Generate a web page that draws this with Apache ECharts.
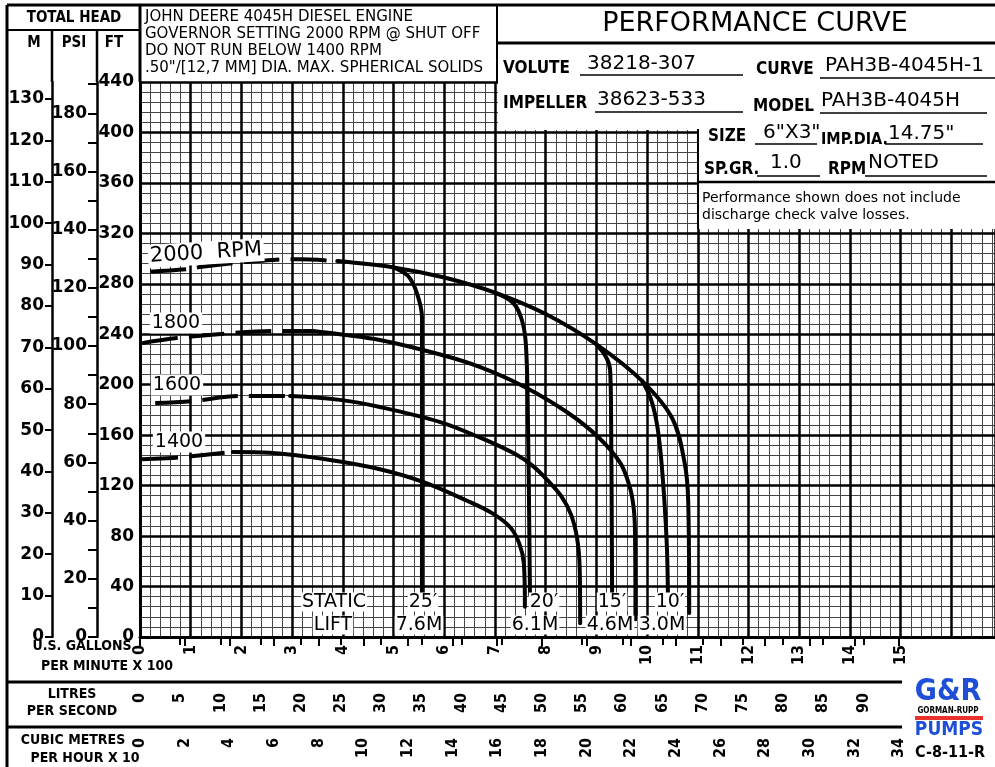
<!DOCTYPE html>
<html>
<head>
<meta charset="utf-8">
<script src="https://cdn.jsdelivr.net/npm/echarts@6.0.0/dist/echarts.min.js"></script>
<style>html,body{margin:0;padding:0;background:#fff;}#chart{width:995px;height:767px;}</style>
</head>
<body>
<div id="chart"></div>
<script>
// ---------- axis ranges & unit conversions ----------
const X_MAX = 16.86;          // U.S. GPM x 100 at right edge of grid
const Y_MAX = 440;            // total head, feet
const FT_PER_PSI = 2.3067;
const FT_PER_M = 3.2808;
const GPM_PER_LPS = 15.8503;
const GPM_PER_M3H = 4.40287;

// ---------- tick labels ----------
const GPM_LABELS = [0,1,2,3,4,5,6,7,8,9,10,11,12,13,14,15];
const LPS_LABELS = [0,5,10,15,20,25,30,35,40,45,50,55,60,65,70,75,80,85,90];
const M3H_LABELS = [0,2,4,6,8,10,12,14,16,18,20,22,24,26,28,30,32,34];
const PSI_TICKS = [0,10,20,30,40,50,60,70,80,90,100,110,120,130,140,150,160,170,180,190];
const PSI_LABELS = [0,20,40,60,80,100,120,140,160,180];
const M_LABELS = [0,10,20,30,40,50,60,70,80,90,100,110,120,130];

// ---------- head curves  [US GPM x100, feet] ----------
const rpm2000Dash = [[0.2,289.6],[0.95,291.7],[1.22,293.5],[1.97,297],[2.17,297.5],[2.9,299.4],[3.12,299.4],[3.89,298]];
const rpm2000 = [[3.89,298],[5.0,293],[6.0,285],[7.0,273],[8.0,256],[9.0,232],[9.9,203],[10.5,173],[10.74,138],[10.81,108],[10.83,19]];
const rpm1800Dash = [[0.04,233],[0.73,237],[1.83,241],[2.66,242.6],[3.41,242.6]];
const rpm1800 = [[3.41,242.6],[3.94,240],[4.73,235.5],[5.92,224],[6.71,214],[7.55,199],[8.43,178],[9.05,158],[9.47,138],[9.65,120],[9.73,104],[9.76,85],[9.77,14]];
const rpm1600Dash = [[0.3,185.5],[1.03,187],[1.97,191],[2.96,191]];
const rpm1600 = [[2.96,191],[3.94,188],[4.73,182.3],[5.92,170.4],[6.71,158],[7.4,145],[7.75,135.5],[8.03,124.5],[8.3,112],[8.5,97],[8.62,78],[8.67,55],[8.68,11]];
const rpm1400Dash = [[0.04,141],[0.65,142],[0.89,142.7],[1.62,145.9],[1.83,146.7]];
const rpm1400 = [[1.83,146.7],[2.56,146],[3.75,140.3],[4.73,133],[5.58,123],[6.45,108],[6.95,98],[7.3,87],[7.48,74],[7.57,58],[7.59,24]];

// ---------- static lift limit curves ----------
const lift25 = [[5.0,293],[5.29,286],[5.46,272.7],[5.56,253.7],[5.56,219.6],[5.56,34.9]];
const lift20 = [[7.0,273],[7.36,264.8],[7.53,251.3],[7.61,231.5],[7.65,172],[7.69,33.3]];
const lift15 = [[9.0,232],[9.19,222],[9.27,211.7],[9.29,172],[9.31,31.7]];
const lift10 = [[9.9,203],[10.06,190.3],[10.18,172],[10.26,148.2],[10.34,108.6],[10.39,71.4],[10.41,34.9]];

// ---------- styling ----------
const F = '"DejaVu Sans", sans-serif';
const FC = '"DejaVu Sans Condensed", "DejaVu Sans", sans-serif';
const K = '#000';

function curve(data, dashed) {
  return {
    type: 'line', data: data, xAxisIndex: 1, yAxisIndex: 1,
    symbol: 'none', smooth: 0.35, silent: true, z: 5,
    lineStyle: { color: K, width: 4, type: dashed ? [36, 11] : 'solid', cap: dashed ? 'butt' : 'round', join: 'round' }
  };
}
function L(x1, y1, x2, y2, w) {
  return { type: 'line', z: 40, shape: { x1: x1, y1: y1, x2: x2, y2: y2 }, style: { stroke: K, lineWidth: w || 2 } };
}
function T(text, x, y, size, o) {
  o = o || {};
  const st = {
    text: text, fill: o.fill || K, fontSize: size, fontFamily: o.family || F,
    fontWeight: o.bold ? 'bold' : 'normal', align: o.align || 'left', verticalAlign: 'middle'
  };
  if (o.bg) { st.backgroundColor = '#fff'; st.padding = o.pad || [1, 2]; }
  const el = { type: 'text', z: 45, x: x, y: y, style: st };
  if (o.rot) el.rotation = o.rot;
  return el;
}
const rotLbl = { rotate: 90, fontFamily: FC, fontWeight: 'bold', fontSize: 16, color: K };

const option = {
  animation: false,
  backgroundColor: '#fff',
  grid: { left: 140, top: 82, width: 855, height: 555, containLabel: false },
  xAxis: [
    { // minor vertical grid
      type: 'value', min: 0, max: X_MAX, interval: 0.2, z: 0,
      axisLine: { show: false }, axisTick: { show: false }, axisLabel: { show: false },
      splitLine: { show: true, lineStyle: { color: '#454545', width: 1 } }
    },
    { // U.S. GPM x 100
      type: 'value', min: 0, max: X_MAX, interval: 1, position: 'bottom', z: 1,
      axisLine: { show: true, onZero: false, lineStyle: { color: K, width: 3 } },
      axisTick: { show: false },
      axisLabel: Object.assign({ customValues: GPM_LABELS, margin: 8 }, rotLbl),
      splitLine: { show: true, lineStyle: { color: K, width: 2.5 } }
    },
    { // litres per second
      type: 'value', min: 0, max: X_MAX * 100 / GPM_PER_LPS, position: 'bottom', offset: 45,
      axisLine: { show: false },
      axisTick: { show: true, customValues: LPS_LABELS, length: 8, lineStyle: { color: K, width: 2 } },
      axisLabel: Object.assign({ customValues: LPS_LABELS, margin: 11 }, rotLbl),
      splitLine: { show: false }
    },
    { // cubic metres per hour x 10
      type: 'value', min: 0, max: X_MAX * 100 / (GPM_PER_M3H * 10), position: 'bottom', offset: 90,
      axisLine: { show: false },
      axisTick: { show: true, customValues: M3H_LABELS, length: 9, lineStyle: { color: K, width: 2 } },
      axisLabel: Object.assign({ customValues: M3H_LABELS, margin: 11 }, rotLbl),
      splitLine: { show: false }
    }
  ],
  yAxis: [
    { // minor horizontal grid
      type: 'value', min: 0, max: Y_MAX, interval: 8, z: 0,
      axisLine: { show: false }, axisTick: { show: false }, axisLabel: { show: false },
      splitLine: { show: true, lineStyle: { color: '#454545', width: 1 } }
    },
    { // FT
      type: 'value', min: 0, max: Y_MAX, interval: 40, position: 'left', z: 1,
      axisLine: { show: true, onZero: false, lineStyle: { color: K, width: 3 } },
      axisTick: { show: false },
      axisLabel: { margin: 6, fontSize: 17, fontWeight: 'bold', fontFamily: F, color: K },
      splitLine: { show: true, lineStyle: { color: K, width: 2.5 } }
    },
    { // PSI
      type: 'value', min: 0, max: Y_MAX / FT_PER_PSI, position: 'left', offset: 43,
      axisLine: { show: true, onZero: false, lineStyle: { color: K, width: 2.5 } },
      axisTick: { show: true, customValues: PSI_TICKS, length: 9, lineStyle: { color: K, width: 2 } },
      axisLabel: { customValues: PSI_LABELS, margin: 10, fontSize: 17, fontWeight: 'bold', fontFamily: F, color: K },
      splitLine: { show: false }
    },
    { // M
      type: 'value', min: 0, max: Y_MAX / FT_PER_M, position: 'left', offset: 88,
      axisLine: { show: true, onZero: false, lineStyle: { color: K, width: 2.5 } },
      axisTick: { show: true, customValues: M_LABELS, length: 7, lineStyle: { color: K, width: 2 } },
      axisLabel: { customValues: M_LABELS, margin: 8, fontSize: 17, fontWeight: 'bold', fontFamily: F, color: K },
      splitLine: { show: false }
    }
  ],
  series: [
    curve(rpm2000Dash, true), curve(rpm2000),
    curve(rpm1800Dash, true), curve(rpm1800),
    curve(rpm1600Dash, true), curve(rpm1600),
    curve(rpm1400Dash, true), curve(rpm1400),
    curve(lift25), curve(lift20), curve(lift15), curve(lift10)
  ],
  graphic: { elements: [
    // white header panels
    { type: 'rect', z: 30, shape: { x: 498, y: 6, width: 497, height: 124 }, style: { fill: '#fff' } },
    { type: 'rect', z: 30, shape: { x: 699, y: 128, width: 296, height: 101 }, style: { fill: '#fff' } },
    { type: 'rect', z: 30, shape: { x: 140, y: 6, width: 358, height: 75 }, style: { fill: '#fff' } },
    // frame lines
    L(7, 5, 995, 5, 3), L(7, 5, 7, 767, 3), L(7, 30, 140, 30, 2),
    L(52, 30, 52, 82, 2.5), L(97, 30, 97, 82, 2.5), L(140, 5, 140, 82, 3),
    L(497, 5, 497, 82, 2), L(497, 43, 995, 43, 3),
    L(698, 129, 698, 229, 2), L(698, 182, 995, 182, 2.5),
    L(7, 682, 902, 682, 3), L(7, 727, 902, 727, 3),
    // underlines
    L(580, 75, 743, 75, 1.5), L(820, 78, 995, 78, 1.5),
    L(595, 112, 743, 112, 1.5), L(820, 113, 987, 113, 1.5),
    L(755, 144, 817, 144, 1.5), L(885, 144, 983, 144, 1.5),
    L(757, 176, 820, 176, 1.5), L(865, 176, 987, 176, 1.5),
    // left header
    T('TOTAL HEAD', 74, 18, 15, { bold: true, family: FC, align: 'center' }),
    T('M', 34, 43, 15, { bold: true, family: FC, align: 'center' }),
    T('PSI', 74, 43, 15, { bold: true, family: FC, align: 'center' }),
    T('FT', 114, 43, 15, { bold: true, family: FC, align: 'center' }),
    // engine notes
    T('JOHN DEERE 4045H DIESEL ENGINE', 145, 17, 15),
    T('GOVERNOR SETTING 2000 RPM @ SHUT OFF', 145, 34, 15),
    T('DO NOT RUN BELOW 1400 RPM', 145, 51, 15),
    T('.50"/[12,7 MM] DIA. MAX. SPHERICAL SOLIDS', 145, 68, 15),
    // title block
    T('PERFORMANCE CURVE', 755, 24, 27, { align: 'center' }),
    T('VOLUTE', 503, 69, 17, { bold: true, family: FC }),
    T('38218-307', 587, 64, 20),
    T('CURVE', 756, 70, 17, { bold: true, family: FC }),
    T('PAH3B-4045H-1', 825, 66, 20),
    T('IMPELLER', 503, 104, 17, { bold: true, family: FC }),
    T('38623-533', 597, 100, 20),
    T('MODEL', 753, 107, 17, { bold: true, family: FC }),
    T('PAH3B-4045H', 821, 101, 20),
    T('SIZE', 708, 137, 17, { bold: true, family: FC }),
    T('6"X3"', 763, 133, 20),
    T('IMP.DIA.', 821, 140, 16, { bold: true, family: FC }),
    T('14.75"', 888, 134, 20),
    T('SP.GR.', 704, 170, 17, { bold: true, family: FC }),
    T('1.0', 770, 163, 20),
    T('RPM', 828, 170, 17, { bold: true, family: FC }),
    T('NOTED', 868, 163, 20),
    T('Performance shown does not include', 702, 198, 14),
    T('discharge check valve losses.', 702, 215, 14),
    // axis captions
    T('U.S. GALLONS', 82, 646, 14, { bold: true, family: FC, align: 'center' }),
    T('PER MINUTE X 100', 107, 666, 14, { bold: true, family: FC, align: 'center' }),
    T('LITRES', 72, 694, 14, { bold: true, family: FC, align: 'center' }),
    T('PER SECOND', 72, 711, 14, { bold: true, family: FC, align: 'center' }),
    T('CUBIC METRES', 73, 740, 14, { bold: true, family: FC, align: 'center' }),
    T('PER HOUR X 10', 85, 758, 14, { bold: true, family: FC, align: 'center' }),
    // curve labels
    T('2000  RPM', 206, 253, 21, { align: 'center', bg: true, rot: 0.06 }),
    T('1800', 176, 323, 19, { align: 'center', bg: true }),
    T('1600', 177, 385, 19, { align: 'center', bg: true }),
    T('1400', 179, 442, 19, { align: 'center', bg: true }),
    T('STATIC', 334, 602, 19, { align: 'center', bg: true, pad: [0, 1] }),
    T('LIFT', 333, 625, 19, { align: 'center', bg: true, pad: [0, 1] }),
    T("25\u2032", 423, 602, 19, { align: 'center', bg: true, pad: [0, 1] }),
    T('7.6M', 419, 625, 19, { align: 'center', bg: true, pad: [0, 1] }),
    T("20\u2032", 544, 602, 19, { align: 'center', bg: true, pad: [0, 1] }),
    T('6.1M', 535, 625, 19, { align: 'center', bg: true, pad: [0, 1] }),
    T("15\u2032", 612, 602, 19, { align: 'center', bg: true, pad: [0, 1] }),
    T('4.6M', 610, 625, 19, { align: 'center', bg: true, pad: [0, 1] }),
    T("10\u2032", 670, 602, 19, { align: 'center', bg: true, pad: [0, 1] }),
    T('3.0M', 662, 625, 19, { align: 'center', bg: true, pad: [0, 1] }),
    // logo
    T('G&R', 948, 692, 30, { bold: true, family: FC, align: 'center', fill: '#1f4fd6' }),
    T('GORMAN-RUPP', 948, 711, 8, { bold: true, family: FC, align: 'center' }),
    { type: 'rect', z: 45, shape: { x: 915, y: 716, width: 68, height: 4 }, style: { fill: '#e8322b' } },
    T('PUMPS', 949, 730, 19, { bold: true, family: FC, align: 'center', fill: '#1f4fd6' }),
    T('C-8-11-R', 950, 753, 16, { bold: true, family: FC, align: 'center' })
  ] }
};

const chart = echarts.init(document.getElementById('chart'), null, { renderer: 'canvas', width: 995, height: 767 });
chart.setOption(option);
</script>
</body>
</html>
